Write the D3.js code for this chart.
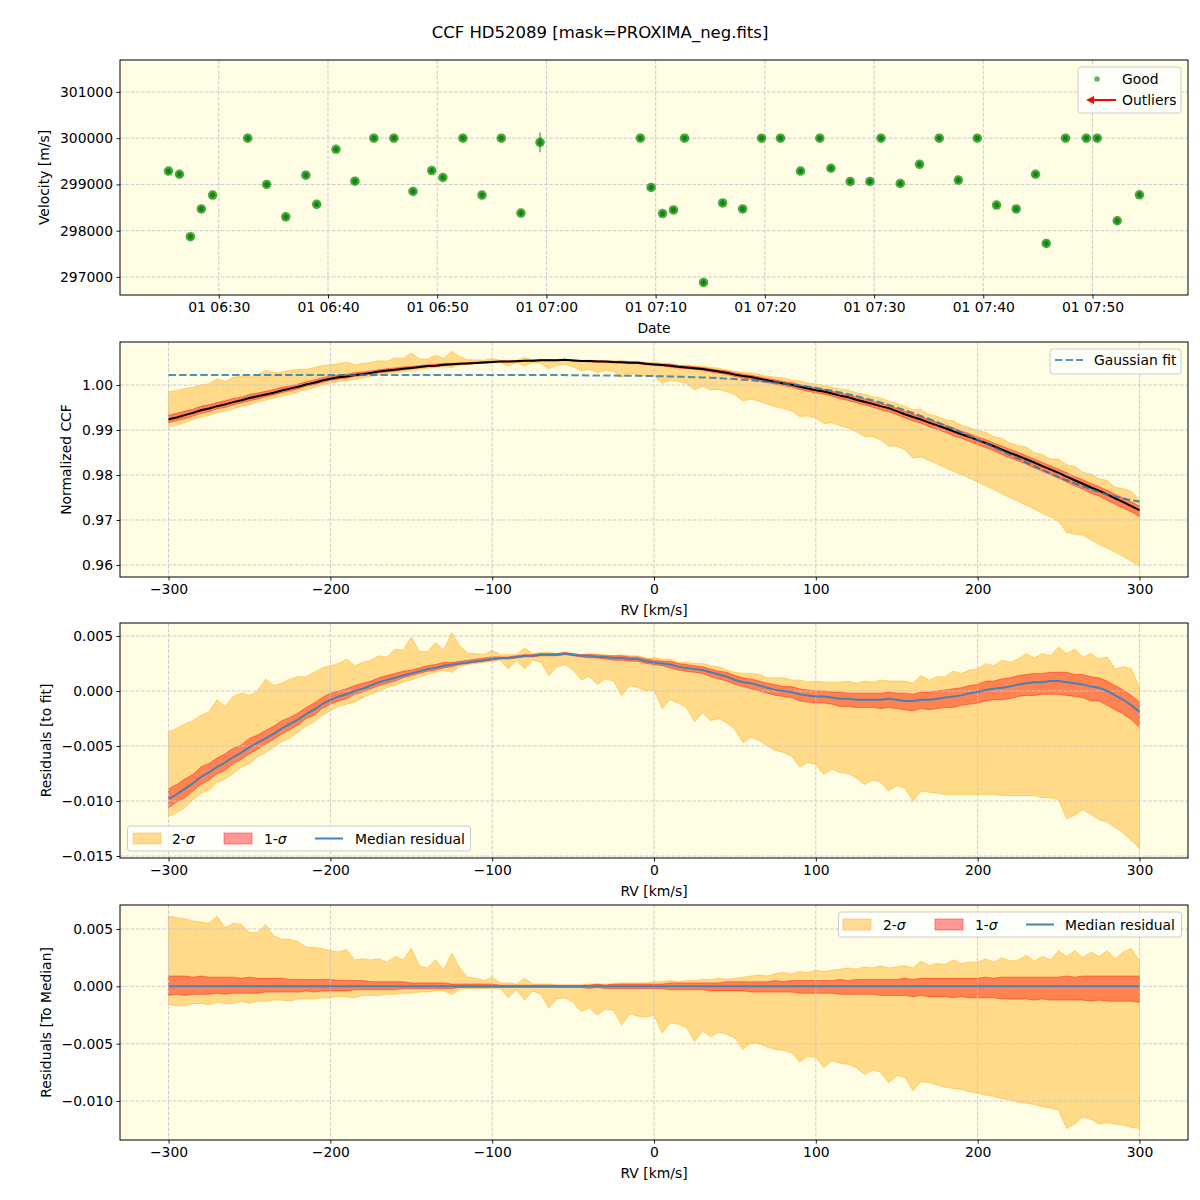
<!DOCTYPE html>
<html><head><meta charset="utf-8">
<script src="https://cdn.jsdelivr.net/npm/d3@7"></script>
<style>
body{margin:0;background:#fff;}
text{font-family:"DejaVu Sans",sans-serif;}
</style></head><body>
<svg id="chart" width="1200" height="1200"></svg>
<script>
// ---------------- DATA ----------------
const obsTimes = ["06:25:24","06:26:24","06:27:24","06:28:24","06:29:26","06:32:39","06:34:23","06:36:08","06:37:58","06:38:58",
"06:40:44","06:42:28","06:44:12","06:46:02","06:47:47","06:49:30","06:50:31","06:52:21","06:54:06","06:55:52",
"06:57:40","06:59:25","07:08:36","07:09:35","07:10:38","07:11:38","07:12:39","07:14:23","07:16:08","07:17:58",
"07:19:42","07:21:26","07:23:16","07:25:02","07:26:03","07:27:49","07:29:37","07:30:38","07:32:24","07:34:10",
"07:35:58","07:37:43","07:39:27","07:41:13","07:43:01","07:44:47","07:45:46","07:47:32","07:49:26","07:50:26",
"07:52:16","07:54:18"];
const obsVel = [299290,299220,297870,298470,298770,300000,299000,298300,299200,298570,
299760,299070,300000,300000,298850,299300,299150,300000,298770,300000,
298380,299910,300000,298935,298370,298450,300000,296880,298600,298470,
300000,300000,299290,300000,299350,299065,299065,300000,299020,299435,
300000,299095,300000,298555,298470,299220,297725,300000,300000,300000,
298215,298775];
const obsErr = [50,50,60,50,50,40,50,60,50,50,
50,50,40,40,50,50,50,40,50,40,
60,215,40,50,60,50,40,70,50,50,
40,40,50,40,50,50,50,40,50,50,
40,50,40,50,50,50,60,40,40,40,
60,50];
const timeTickLabels = ["06:30","06:40","06:50","07:00","07:10","07:20","07:30","07:40","07:50"];

const rvGrid = d3.range(-300, 301, 5);
const gaussFit = [
1.0022,1.0022,1.0022,1.0022,1.0022,1.0022,1.0022,1.0022,1.0022,1.0022,
1.0022,1.0022,1.0022,1.0022,1.0022,1.0022,1.0022,1.0022,1.0022,1.0022,
1.0022,1.0022,1.0022,1.0022,1.0022,1.0022,1.0022,1.0022,1.0022,1.0022,
1.0022,1.0022,1.0022,1.0022,1.0022,1.0022,1.0022,1.0022,1.0022,1.0022,
1.0022,1.0022,1.0022,1.0022,1.0022,1.0022,1.0022,1.0022,1.0022,1.0022,
1.00216,1.00215,1.00214,1.00213,1.00212,1.0021,1.00208,1.00206,1.00204,1.00201,
1.00198,1.00195,1.0019,1.00186,1.0018,1.00175,1.00168,1.0016,1.00152,1.00142,
1.00131,1.00119,1.00106,1.00091,1.00074,1.00056,1.00036,1.00014,0.9999,0.99964,
0.99935,0.99904,0.99871,0.99834,0.99796,0.99754,0.99709,0.99661,0.99611,0.99557,
0.995,0.9944,0.99378,0.99312,0.99244,0.99173,0.99099,0.99023,0.98945,0.98866,
0.98784,0.98701,0.98618,0.98533,0.98449,0.98364,0.9828,0.98197,0.98116,0.98036,
0.97958,0.97884,0.97813,0.97746,0.97683,0.97624,0.97569,0.97521,0.97478,0.9744,
0.9741];
const medianResid = [
-0.0098,-0.0094,-0.0089,-0.0084,-0.0078,-0.0074,-0.0069,-0.0065,-0.0060,-0.0056,
-0.0051,-0.0047,-0.0043,-0.0039,-0.0034,-0.0030,-0.0026,-0.0021,-0.0017,-0.0012,
-0.0008,-0.0005,-0.0003,0.0000,0.0002,0.0005,0.0008,0.0010,0.0012,0.0014,
0.0016,0.0018,0.0020,0.0021,0.0023,0.0024,0.0025,0.0026,0.0027,0.0028,
0.0029,0.0030,0.0030,0.0031,0.0032,0.0032,0.0033,0.0033,0.0033,0.0034,
0.0033,0.0032,0.0032,0.0031,0.0031,0.0030,0.0030,0.0029,0.0029,0.0027,
0.0026,0.0025,0.0024,0.0022,0.0021,0.0020,0.0019,0.0017,0.0015,0.0013,
0.0010,0.0008,0.0007,0.0005,0.0003,0.0001,0.0000,-0.0001,-0.0003,-0.0004,
-0.0005,-0.0005,-0.0006,-0.0007,-0.0007,-0.0008,-0.0008,-0.0008,-0.0008,-0.0007,
-0.0008,-0.0009,-0.0009,-0.0008,-0.0008,-0.0007,-0.0006,-0.0005,-0.0004,-0.0002,
-0.0001,0.0001,0.0002,0.0003,0.0004,0.0006,0.0007,0.0008,0.0008,0.0009,
0.0009,0.0008,0.0007,0.0006,0.0004,0.0003,0.0000,-0.0004,-0.0008,-0.0013,
-0.0019];
// band edges, relative to the median residual
const sig1Hi = [
0.0009,0.0009,0.0009,0.0008,0.0009,0.0008,0.0008,0.0008,0.0008,0.0007,
0.0008,0.0007,0.0007,0.0007,0.0007,0.0006,0.0006,0.0006,0.0006,0.0006,
0.0006,0.0005,0.0005,0.0005,0.0005,0.0004,0.0004,0.0004,0.0004,0.0004,
0.0003,0.0003,0.0003,0.0003,0.0003,0.0002,0.0002,0.0002,0.0002,0.0002,
0.0002,0.0001,0.0001,0.0001,0.0001,0.0001,0.0001,0.0001,0.0001,0.0001,
0.0001,0.0001,0.0001,0.0002,0.0001,0.0002,0.0002,0.0002,0.0002,0.0002,
0.0002,0.0002,0.0003,0.0003,0.0003,0.0003,0.0003,0.0003,0.0003,0.0004,
0.0004,0.0004,0.0004,0.0004,0.0004,0.0005,0.0004,0.0005,0.0005,0.0005,
0.0005,0.0005,0.0005,0.0006,0.0005,0.0006,0.0006,0.0006,0.0006,0.0006,
0.0006,0.0007,0.0006,0.0007,0.0007,0.0007,0.0007,0.0007,0.0007,0.0007,
0.0007,0.0008,0.0007,0.0008,0.0008,0.0008,0.0008,0.0008,0.0008,0.0008,
0.0008,0.0009,0.0008,0.0009,0.0009,0.0009,0.0009,0.0009,0.0009,0.0009,
0.0009];
const sig1Lo = [
-0.0008,-0.0007,-0.0008,-0.0007,-0.0007,-0.0007,-0.0006,-0.0007,-0.0006,-0.0006,
-0.0006,-0.0006,-0.0005,-0.0005,-0.0005,-0.0005,-0.0005,-0.0004,-0.0005,-0.0004,
-0.0004,-0.0004,-0.0004,-0.0003,-0.0003,-0.0003,-0.0003,-0.0003,-0.0003,-0.0002,
-0.0002,-0.0002,-0.0002,-0.0002,-0.0002,-0.0002,-0.0001,-0.0001,-0.0001,-0.0001,
-0.0001,-0.0001,-0.0001,-0.0001,-0.0001,-0.0001,-0.0001,-0.0001,-0.0001,-0.0001,
-0.0001,-0.0001,-0.0002,-0.0001,-0.0002,-0.0002,-0.0002,-0.0002,-0.0002,-0.0002,
-0.0002,-0.0002,-0.0003,-0.0003,-0.0003,-0.0003,-0.0003,-0.0004,-0.0004,-0.0004,
-0.0004,-0.0004,-0.0005,-0.0005,-0.0005,-0.0005,-0.0005,-0.0005,-0.0006,-0.0006,
-0.0006,-0.0006,-0.0006,-0.0007,-0.0007,-0.0007,-0.0007,-0.0007,-0.0008,-0.0008,
-0.0008,-0.0008,-0.0009,-0.0008,-0.0009,-0.0009,-0.0009,-0.0010,-0.0009,-0.0010,
-0.0010,-0.0010,-0.0010,-0.0011,-0.0011,-0.0011,-0.0011,-0.0012,-0.0011,-0.0012,
-0.0012,-0.0012,-0.0012,-0.0012,-0.0013,-0.0012,-0.0013,-0.0013,-0.0013,-0.0013,
-0.0014];
const sig2Hi = [
0.0061,0.0060,0.0059,0.0057,0.0056,0.0055,0.0061,0.0051,0.0055,0.0054,
0.0047,0.0047,0.0054,0.0044,0.0041,0.0041,0.0039,0.0034,0.0034,0.0033,
0.0031,0.0030,0.0032,0.0023,0.0024,0.0023,0.0024,0.0021,0.0026,0.0023,
0.0033,0.0018,0.0016,0.0023,0.0014,0.0029,0.0016,0.0008,0.0007,0.0005,
0.0008,0.0003,0.0003,0.0002,0.0007,0.0002,0.0002,0.0002,0.0001,0.0001,
0.0001,0.0001,0.0002,0.0002,0.0002,0.0002,0.0003,0.0003,0.0003,0.0003,
0.0004,0.0004,0.0005,0.0004,0.0005,0.0005,0.0006,0.0006,0.0007,0.0006,
0.0007,0.0008,0.0009,0.0010,0.0009,0.0011,0.0012,0.0011,0.0013,0.0012,
0.0014,0.0013,0.0014,0.0015,0.0016,0.0015,0.0017,0.0016,0.0018,0.0016,
0.0017,0.0018,0.0016,0.0022,0.0018,0.0020,0.0019,0.0023,0.0020,0.0021,
0.0021,0.0024,0.0021,0.0025,0.0022,0.0023,0.0027,0.0022,0.0026,0.0023,
0.0031,0.0026,0.0031,0.0025,0.0030,0.0026,0.0031,0.0024,0.0030,0.0033,
0.0022];
const sig2Lo = [
-0.0016,-0.0017,-0.0017,-0.0015,-0.0015,-0.0016,-0.0014,-0.0015,-0.0015,-0.0013,
-0.0015,-0.0013,-0.0013,-0.0012,-0.0012,-0.0013,-0.0011,-0.0011,-0.0011,-0.0010,
-0.0010,-0.0009,-0.0009,-0.0010,-0.0008,-0.0008,-0.0008,-0.0007,-0.0007,-0.0006,
-0.0006,-0.0005,-0.0005,-0.0004,-0.0004,-0.0007,-0.0003,-0.0002,-0.0002,-0.0002,
-0.0002,-0.0002,-0.0010,-0.0003,-0.0012,-0.0004,-0.0007,-0.0019,-0.0011,-0.0010,
-0.0014,-0.0022,-0.0019,-0.0025,-0.0020,-0.0021,-0.0034,-0.0024,-0.0026,-0.0027,
-0.0025,-0.0041,-0.0032,-0.0033,-0.0036,-0.0048,-0.0039,-0.0044,-0.0040,-0.0042,
-0.0045,-0.0055,-0.0049,-0.0050,-0.0053,-0.0055,-0.0056,-0.0058,-0.0066,-0.0061,
-0.0062,-0.0071,-0.0065,-0.0067,-0.0068,-0.0071,-0.0077,-0.0073,-0.0075,-0.0084,
-0.0078,-0.0079,-0.0091,-0.0083,-0.0084,-0.0086,-0.0088,-0.0089,-0.0090,-0.0092,
-0.0093,-0.0095,-0.0096,-0.0098,-0.0099,-0.0101,-0.0102,-0.0103,-0.0105,-0.0106,
-0.0108,-0.0124,-0.0120,-0.0114,-0.0116,-0.0120,-0.0119,-0.0120,-0.0121,-0.0123,
-0.0124];

const velTicks = [297000,298000,299000,300000,301000];
const ccfTicks = [0.96,0.97,0.98,0.99,1.00];
const resTicks = [-0.015,-0.010,-0.005,0.000,0.005];
const medTicks = [-0.010,-0.005,0.000,0.005];
const rvTicks = [-300,-200,-100,0,100,200,300];

// ---------------- LAYOUT ----------------
const L = 120, R = 1188;
const panels = [{top:60,bottom:295},{top:342,bottom:577},{top:623,bottom:858},{top:905,bottom:1140}];
const svg = d3.select("#chart");
svg.append("rect").attr("width",1200).attr("height",1200).attr("fill","#fff");
svg.append("text").attr("x",600).attr("y",38).attr("text-anchor","middle")
  .attr("font-size","16.5px").text("CCF HD52089 [mask=PROXIMA_neg.fits]");

const ORANGE = "#ffa500", RED = "#ff0000", BLUE = "#4682b4";

function makePanel(idx, o) {
  const p = panels[idx];
  const g = svg.append("g");
  const x = o.x;
  const y = d3.scaleLinear().domain(o.yDomain).range([p.bottom, p.top]);
  g.append("rect").attr("x",L).attr("y",p.top).attr("width",R-L).attr("height",p.bottom-p.top).attr("fill","#fffde4");
  const fills = g.append("g");
  const grid = g.append("g");
  o.xTicks.forEach(v => grid.append("line").attr("x1",x(v)).attr("x2",x(v)).attr("y1",p.top).attr("y2",p.bottom));
  o.yTicks.forEach(v => grid.append("line").attr("x1",L).attr("x2",R).attr("y1",y(v)).attr("y2",y(v)));
  grid.selectAll("line").attr("stroke","#c6c6cc").attr("stroke-width",0.9).attr("stroke-dasharray","3.7,1.6");
  const lines = g.append("g");
  const ax = g.append("g").attr("transform",`translate(0,${p.bottom})`)
    .call(d3.axisBottom(x).tickValues(o.xTicks).tickFormat(o.xFmt).tickSize(3.5).tickPadding(3.5).tickSizeOuter(0));
  const ay = g.append("g").attr("transform",`translate(${L},0)`)
    .call(d3.axisLeft(y).tickValues(o.yTicks).tickFormat(o.yFmt).tickSize(3.5).tickPadding(3.5).tickSizeOuter(0));
  [ax, ay].forEach(a => {
    a.select(".domain").remove();
    a.selectAll("text").attr("font-size","13.9px").attr("font-family","DejaVu Sans").attr("fill","#000");
    a.selectAll("line").attr("stroke","#000").attr("stroke-width",0.9);
  });
  g.append("rect").attr("x",L).attr("y",p.top).attr("width",R-L).attr("height",p.bottom-p.top)
    .attr("fill","none").attr("stroke","#000").attr("stroke-width",1);
  g.append("text").attr("x",(L+R)/2).attr("y",p.bottom+38).attr("text-anchor","middle")
    .attr("font-size","13.9px").text(o.xLabel);
  g.append("text").attr("transform",`translate(${o.yLabelX},${(p.top+p.bottom)/2}) rotate(-90)`)
    .attr("text-anchor","middle").attr("font-size","13.9px").text(o.yLabel);
  return {fills, lines, x, y};
}

// ---------------- PANEL 1 ----------------
const parseT = s => { const [h,m,sec] = s.split(":").map(Number); return new Date(Date.UTC(2024,0,1,h,m,sec||0)); };
const tDates = obsTimes.map(parseT);
const tExt = d3.extent(tDates);
const tPad = (tExt[1]-tExt[0])*0.05;
const xT = d3.scaleUtc().domain([new Date(+tExt[0]-tPad), new Date(+tExt[1]+tPad)]).range([L,R]);
const P1 = makePanel(0, {x:xT, xTicks:timeTickLabels.map(parseT), xFmt:d3.utcFormat("01 %H:%M"),
  yDomain:[296610,301690], yTicks:velTicks, yFmt:d3.format("d"), xLabel:"Date", yLabel:"Velocity [m/s]", yLabelX:49});
const pts = obsVel.map((v,i)=>({t:tDates[i], v, e:obsErr[i]}));
P1.lines.selectAll("line.err").data(pts).join("line")
  .attr("x1",d=>xT(d.t)).attr("x2",d=>xT(d.t)).attr("y1",d=>P1.y(d.v-d.e)).attr("y2",d=>P1.y(d.v+d.e))
  .attr("stroke","green").attr("stroke-opacity",0.6).attr("stroke-width",1.5);
P1.lines.selectAll("circle.o").data(pts).join("circle")
  .attr("cx",d=>xT(d.t)).attr("cy",d=>P1.y(d.v)).attr("r",4.75).attr("fill","green").attr("fill-opacity",0.7);
P1.lines.selectAll("circle.i").data(pts).join("circle")
  .attr("cx",d=>xT(d.t)).attr("cy",d=>P1.y(d.v)).attr("r",2.6).attr("fill","green").attr("fill-opacity",0.7);

// ---------------- helpers ----------------
const idx = rvGrid.map((_,i)=>i);
const xRV = d3.scaleLinear().domain([-330,330]).range([L,R]);
function band(panel, lo, hi, color) {
  const area = d3.area().x(i=>xRV(rvGrid[i])).y0(i=>panel.y(lo(i))).y1(i=>panel.y(hi(i)));
  panel.fills.append("path").attr("d",area(idx)).attr("fill",color).attr("fill-opacity",0.4)
    .attr("stroke",color).attr("stroke-opacity",0.4).attr("stroke-width",1);
}
function line(panel, f, color, w, dash, op) {
  const ln = d3.line().x(i=>xRV(rvGrid[i])).y(i=>panel.y(f(i)));
  const p = panel.lines.append("path").attr("d",ln(idx)).attr("fill","none").attr("stroke",color)
    .attr("stroke-width",w).attr("stroke-opacity",op||1);
  if (dash) p.attr("stroke-dasharray",dash);
}
const fmtRV = d3.format("d");

// ---------------- PANEL 2 ----------------
const P2 = makePanel(1, {x:xRV, xTicks:rvTicks, xFmt:fmtRV, yDomain:[0.95733,1.00956], yTicks:ccfTicks,
  yFmt:d3.format(".2f"), xLabel:"RV [km/s]", yLabel:"Normalized CCF", yLabelX:71});
band(P2, i=>gaussFit[i]+medianResid[i]+sig2Lo[i], i=>gaussFit[i]+medianResid[i]+sig2Hi[i], ORANGE);
band(P2, i=>gaussFit[i]+medianResid[i]+sig1Lo[i], i=>gaussFit[i]+medianResid[i]+sig1Hi[i], RED);
line(P2, i=>gaussFit[i]+medianResid[i], "#000", 2);
line(P2, i=>gaussFit[i], "#1f77b4", 2, "7.4,3.2", 0.8);

// ---------------- PANEL 3 ----------------
const P3 = makePanel(2, {x:xRV, xTicks:rvTicks, xFmt:fmtRV, yDomain:[-0.01518,0.00618], yTicks:resTicks,
  yFmt:d3.format(".3f"), xLabel:"RV [km/s]", yLabel:"Residuals [to fit]", yLabelX:51});
band(P3, i=>medianResid[i]+sig2Lo[i], i=>medianResid[i]+sig2Hi[i], ORANGE);
band(P3, i=>medianResid[i]+sig1Lo[i], i=>medianResid[i]+sig1Hi[i], RED);
line(P3, i=>medianResid[i], BLUE, 2);

// ---------------- PANEL 4 ----------------
const P4 = makePanel(3, {x:xRV, xTicks:rvTicks, xFmt:fmtRV, yDomain:[-0.0134,0.00709], yTicks:medTicks,
  yFmt:d3.format(".3f"), xLabel:"RV [km/s]", yLabel:"Residuals [To Median]", yLabelX:51});
band(P4, i=>sig2Lo[i], i=>sig2Hi[i], ORANGE);
band(P4, i=>sig1Lo[i], i=>sig1Hi[i], RED);
line(P4, i=>medianResid[i]-medianResid[i], BLUE, 2);

// ---------------- LEGENDS ----------------
function legendBox(x,y,w,h){
  svg.append("rect").attr("x",x).attr("y",y).attr("width",w).attr("height",h).attr("rx",3)
    .attr("fill","#fff").attr("fill-opacity",0.8).attr("stroke","#cccccc").attr("stroke-width",1);
}
function legText(x,yc,parts){
  const t = svg.append("text").attr("x",x).attr("y",yc+5).attr("font-size","13.9px");
  parts.forEach(pt => { const s = t.append("tspan").text(pt.t); if (pt.i) s.attr("font-style","italic"); });
}
// panel 1
legendBox(1078,67,103,46);
svg.append("circle").attr("cx",1097).attr("cy",79).attr("r",2.8).attr("fill","green").attr("fill-opacity",0.6);
legText(1122,79,[{t:"Good"}]);
svg.append("line").attr("x1",1116).attr("x2",1092).attr("y1",100).attr("y2",100).attr("stroke","red").attr("stroke-width",2);
svg.append("path").attr("d","M1086,100 L1094,96 L1094,104 Z").attr("fill","red");
legText(1122,100,[{t:"Outliers"}]);
// panel 2
legendBox(1050,349,131,25);
svg.append("line").attr("x1",1055).attr("x2",1083).attr("y1",360).attr("y2",360)
  .attr("stroke","#1f77b4").attr("stroke-opacity",0.8).attr("stroke-width",2).attr("stroke-dasharray","7.4,3.2");
legText(1094,360,[{t:"Gaussian fit"}]);
// panels 3 & 4
function sigmaLegend(x0, y0, xs) {
  legendBox(x0, y0, 343, 25);
  const yc = y0 + 12.5;
  [[xs[0],ORANGE],[xs[2],RED]].forEach(([px,c]) => {
    svg.append("rect").attr("x",px).attr("y",yc-5.5).attr("width",28).attr("height",11)
      .attr("fill",c).attr("fill-opacity",0.4).attr("stroke",c).attr("stroke-opacity",0.4);
  });
  legText(xs[1],yc,[{t:"2-"},{t:"σ",i:true}]);
  legText(xs[3],yc,[{t:"1-"},{t:"σ",i:true}]);
  svg.append("line").attr("x1",xs[4]).attr("x2",xs[4]+28).attr("y1",yc).attr("y2",yc).attr("stroke",BLUE).attr("stroke-width",2);
  legText(xs[5],yc,[{t:"Median residual"}]);
}
sigmaLegend(127.5, 826, [133,172,224,264,315,355]);
sigmaLegend(838.5, 912, [843,883,935,975,1026,1065]);
</script>
</body></html>
